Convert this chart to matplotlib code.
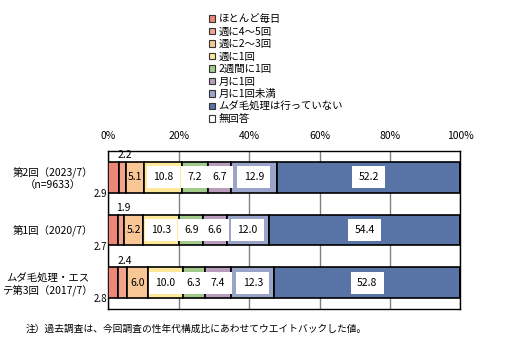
import matplotlib
matplotlib.use('Agg')
import matplotlib.pyplot as plt
from matplotlib.patches import Patch
import numpy as np

plt.rcParams['font.family'] = ['Noto Sans CJK JP', 'DejaVu Sans']

# data
rounds = ['第2回（2023/7）\n（n=9633）', '第1回（2020/7）', 'ムダ毛処理・エス\nテ第3回（2017/7）']
categories = ['ほとんど毎日', '週に4～5回', '週に2～3回', '週に1回', '2週間に1回',
              '月に1回', '月に1回未満', 'ムダ毛処理は行っていない', '無回答']
values_2023 = [2.9, 2.2, 5.1, 10.8, 7.2, 6.7, 12.9, 52.2, 0.0]
values_2020 = [2.7, 1.9, 5.2, 10.3, 6.9, 6.6, 12.0, 54.4, 0.0]
values_2017 = [2.8, 2.4, 6.0, 10.0, 6.3, 7.4, 12.3, 52.8, 0.0]
colors = ['#EC8677', '#F1A38B', '#F9C796', '#FEE89A', '#A2CA8B',
          '#BA9DBC', '#9AA4C9', '#5873A6', '#FFFFFF']

data = np.array([values_2023, values_2020, values_2017])

fig = plt.figure(figsize=(5.12, 3.56), dpi=100)
ax = fig.add_axes([108.3 / 512, 1 - 309.3 / 356, 352 / 512, 158.6 / 356])

y = np.arange(len(rounds))
h = 0.585
left = np.zeros(len(rounds))
for j, cat in enumerate(categories):
    ax.barh(y, data[:, j], left=left, height=h, color=colors[j],
            edgecolor='black', linewidth=1.2, zorder=3)
    for i in range(len(rounds)):
        v = data[i, j]
        if v == 0:
            continue
        cx = left[i] + v / 2
        if j == 0:
            ax.text(-0.3, y[i] + h / 2 + 0.02, f'{v:.1f}', ha='right', va='center',
                    fontsize=7)
        elif j == 1:
            ax.text(cx + 0.6, y[i] - h / 2 - 0.12, f'{v:.1f}', ha='center', va='center',
                    fontsize=7.5)
        elif j == 2:
            ax.text(cx, y[i], f'{v:.1f}', ha='center', va='center', fontsize=7.5,
                    zorder=5)
        else:
            ax.text(cx, y[i], f'{v:.1f}', ha='center', va='center', fontsize=7.5,
                    zorder=5, bbox=dict(boxstyle='square,pad=0.6', fc='white', ec='none'))
    left += data[:, j]

ax.set_xlim(0, 100)
ax.set_ylim(2.5, -0.5)
ax.set_xticks([0, 20, 40, 60, 80, 100])
ax.set_xticklabels(['0%', '20%', '40%', '60%', '80%', '100%'], fontsize=7.5)
ax.xaxis.tick_top()
ax.tick_params(axis='x', length=0, pad=7)
ax.set_yticks(y)
ax.set_yticklabels(rounds, fontsize=7.5, multialignment='center')
ax.tick_params(axis='y', length=0, pad=11)
ax.grid(axis='x', color='#808080', linewidth=1.0, zorder=0)
for s in ax.spines.values():
    s.set_color('black')
    s.set_linewidth(1.0)

handles = [Patch(facecolor=c, edgecolor='#333333', linewidth=0.8) for c in colors]
fig.legend(handles, categories, loc='upper left', bbox_to_anchor=(209 / 512, 1 - 14 / 356),
           frameon=False, fontsize=7.5, handlelength=0.6, handleheight=0.6,
           handletextpad=0.3, labelspacing=0.24, borderpad=0, borderaxespad=0)

fig.text(26 / 512, 1 - 329 / 356, '注）過去調査は、今回調査の性年代構成比にあわせてウエイトバックした値。',
         fontsize=7, va='center', ha='left')

fig.savefig('out.png', dpi=100)
